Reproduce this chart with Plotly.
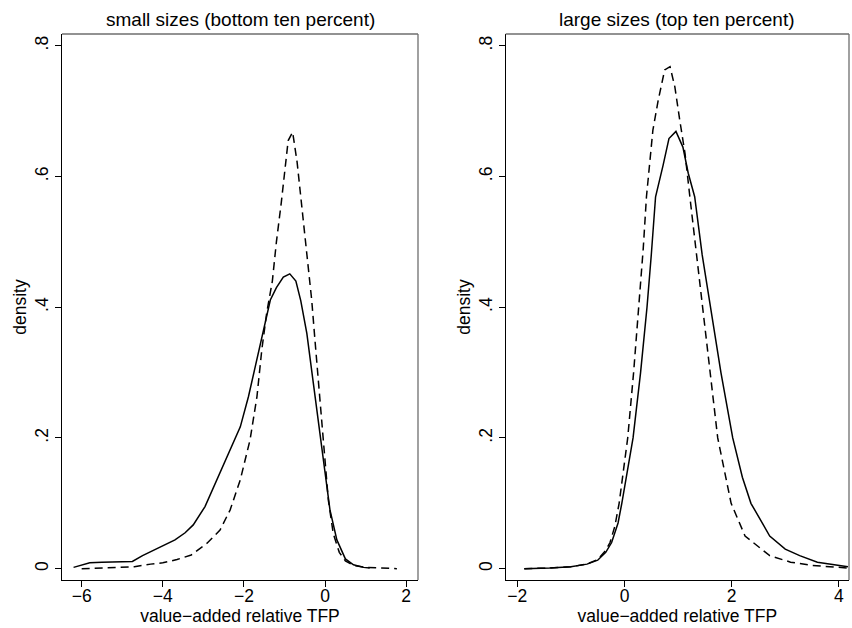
import plotly.graph_objects as go

# Kernel density estimates of value-added relative TFP
# left panel: small firms (bottom ten percent of sizes)
small_solid_x = [-6.2, -5.8, -5.5, -5.1, -4.75, -4.5, -4.3, -4.0, -3.7, -3.45, -3.25,
                 -2.96, -2.67, -2.34, -2.09, -1.89, -1.68, -1.52, -1.35, -1.2, -1.03,
                 -0.87, -0.72, -0.6, -0.45, -0.29, -0.12, 0.0, 0.12, 0.29, 0.5, 0.7,
                 0.95, 1.1]
small_solid_y = [0.002, 0.009, 0.010, 0.010, 0.011, 0.020, 0.026, 0.034, 0.044, 0.055,
                 0.067, 0.095, 0.136, 0.182, 0.217, 0.263, 0.319, 0.365, 0.411, 0.430,
                 0.446, 0.451, 0.440, 0.410, 0.360, 0.284, 0.207, 0.146, 0.090, 0.044,
                 0.015, 0.006, 0.002, 0.001]

small_dash_x = [-6.0, -5.5, -5.0, -4.7, -4.3, -4.0, -3.65, -3.3, -2.91, -2.59, -2.34,
                -2.09, -1.85, -1.68, -1.56, -1.44, -1.3, -1.2, -1.08, -0.97, -0.91,
                -0.8, -0.69, -0.55, -0.42, -0.33, -0.25, -0.16, -0.08, 0.0, 0.08, 0.2,
                0.35, 0.5, 0.7, 1.0, 1.4, 1.77]
small_dash_y = [0.000, 0.001, 0.002, 0.003, 0.007, 0.009, 0.014, 0.021, 0.039, 0.059,
                0.090, 0.136, 0.197, 0.263, 0.335, 0.391, 0.440, 0.500, 0.560, 0.620,
                0.655, 0.668, 0.622, 0.540, 0.460, 0.411, 0.350, 0.284, 0.217, 0.156,
                0.105, 0.054, 0.025, 0.012, 0.005, 0.002, 0.001, 0.000]

# right panel: large firms (top ten percent of sizes)
large_solid_x = [-1.87, -1.4, -1.0, -0.7, -0.5, -0.35, -0.24, -0.12, -0.05, 0.05, 0.16,
                 0.3, 0.42, 0.5, 0.58, 0.72, 0.83, 0.96, 1.09, 1.19, 1.31, 1.45, 1.61,
                 1.8, 2.02, 2.2, 2.36, 2.71, 3.0, 3.27, 3.6, 4.0, 4.17]
large_solid_y = [0.000, 0.001, 0.003, 0.007, 0.013, 0.025, 0.040, 0.070, 0.100, 0.145,
                 0.200, 0.300, 0.400, 0.480, 0.569, 0.617, 0.658, 0.669, 0.645, 0.605,
                 0.569, 0.480, 0.400, 0.300, 0.200, 0.140, 0.100, 0.050, 0.030, 0.020,
                 0.010, 0.005, 0.003]

large_dash_x = [-1.87, -1.4, -1.0, -0.7, -0.5, -0.35, -0.27, -0.18, -0.1, 0.06, 0.17,
                0.27, 0.35, 0.41, 0.53, 0.63, 0.75, 0.85, 0.94, 1.03, 1.13, 1.22, 1.33,
                1.46, 1.6, 1.74, 1.99, 2.25, 2.71, 3.1, 3.5, 4.17]
large_dash_y = [0.000, 0.001, 0.003, 0.007, 0.014, 0.028, 0.040, 0.065, 0.100, 0.200,
                0.300, 0.400, 0.490, 0.569, 0.671, 0.717, 0.763, 0.768, 0.737, 0.687,
                0.635, 0.569, 0.490, 0.400, 0.300, 0.200, 0.100, 0.050, 0.020, 0.010,
                0.005, 0.001]

panel_titles = ["small sizes (bottom ten percent)", "large sizes (top ten percent)"]
x_label = "value\u2212added relative TFP"
y_label = "density"
small_xticks = [-6, -4, -2, 0, 2]
large_xticks = [-2, 0, 2, 4]
y_tickvals = [0, 0.2, 0.4, 0.6, 0.8]
y_ticktext = ["0", ".2", ".4", ".6", ".8"]

W, H = 852, 628
FONT = "Liberation Sans, Arial, Helvetica, sans-serif"
TICK_SIZE = 17.5
TITLE_SIZE = 19
LINE_W = 1.5
DASH = "8px,5px"

fig = go.Figure()
fig.add_trace(go.Scatter(x=small_solid_x, y=small_solid_y, mode="lines",
                         line=dict(color="black", width=LINE_W), xaxis="x", yaxis="y"))
fig.add_trace(go.Scatter(x=small_dash_x, y=small_dash_y, mode="lines",
                         line=dict(color="black", width=LINE_W, dash=DASH), xaxis="x", yaxis="y"))
fig.add_trace(go.Scatter(x=large_solid_x, y=large_solid_y, mode="lines",
                         line=dict(color="black", width=LINE_W), xaxis="x2", yaxis="y2"))
fig.add_trace(go.Scatter(x=large_dash_x, y=large_dash_y, mode="lines",
                         line=dict(color="black", width=LINE_W, dash=DASH), xaxis="x2", yaxis="y2"))

# panel boxes in pixel terms
left_box = (62, 418)
right_box = (505.7, 849)
top_px, bottom_px = 34, 580
ydom = [1 - bottom_px / H, 1 - top_px / H]

axis_common = dict(showgrid=False, zeroline=False, showline=True, linecolor="black",
                   linewidth=1.3, ticks="outside", ticklen=6, tickwidth=1,
                   tickcolor="black",
                   tickfont=dict(family=FONT, size=TICK_SIZE, color="black"))

x_title = dict(text=x_label, standoff=3, font=dict(size=TICK_SIZE))
y_title = dict(text=y_label, standoff=0, font=dict(size=TICK_SIZE))

fig.update_layout(
    width=W, height=H,
    margin=dict(l=0, r=0, t=0, b=0),
    paper_bgcolor="white", plot_bgcolor="white",
    showlegend=False,
    font=dict(family=FONT, size=TICK_SIZE, color="black"),
    xaxis=dict(domain=[left_box[0] / W, left_box[1] / W], range=[-6.485, 2.29],
               tickvals=small_xticks, anchor="y", ticklabelstandoff=-6,
               title=x_title, **axis_common),
    yaxis=dict(domain=ydom, range=[-0.0173, 0.818], tickvals=y_tickvals,
               ticktext=y_ticktext, tickangle=-90, anchor="x",
               title=y_title, **axis_common),
    xaxis2=dict(domain=[right_box[0] / W, right_box[1] / W], range=[-2.217, 4.19],
                tickvals=large_xticks, anchor="y2", ticklabelstandoff=-6,
                title=x_title, **axis_common),
    yaxis2=dict(domain=ydom, range=[-0.0173, 0.818], tickvals=y_tickvals,
                ticktext=y_ticktext, tickangle=-90, anchor="x2",
                title=y_title, **axis_common),
)

# lighter top and right edges of each plot region
for xr, yr in (("x domain", "y domain"), ("x2 domain", "y2 domain")):
    fig.add_shape(type="line", xref=xr, yref=yr, x0=0, x1=1, y0=1, y1=1,
                  line=dict(color="#6e6e6e", width=1.3))
    fig.add_shape(type="line", xref=xr, yref=yr, x0=1, x1=1, y0=0, y1=1,
                  line=dict(color="#6e6e6e", width=1.3))

# panel titles
for txt, box in zip(panel_titles, (left_box, right_box)):
    fig.add_annotation(text=txt, xref="paper", yref="paper",
                       x=(box[0] + box[1]) / 2 / W, y=1 - 19 / H,
                       xanchor="center", yanchor="middle", showarrow=False,
                       font=dict(family=FONT, size=TITLE_SIZE, color="black"))

fig.write_html("out.html")
